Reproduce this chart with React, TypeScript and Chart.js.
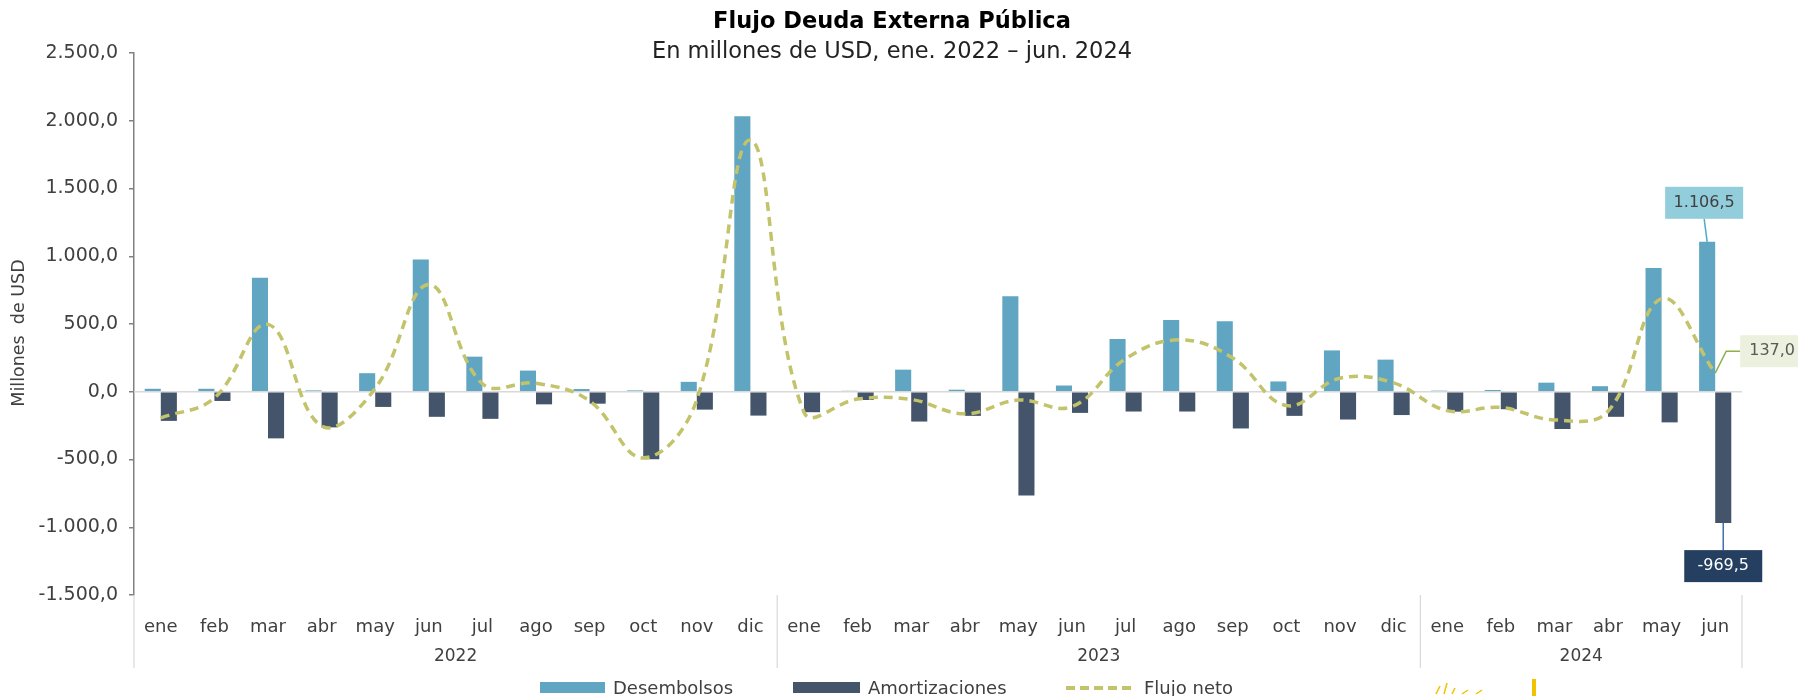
import React, { useEffect, useRef } from "react";
import { Chart, registerables } from "chart.js";
Chart.register(...registerables);

const months = [
  "ene", "feb", "mar", "abr", "may", "jun", "jul", "ago", "sep", "oct", "nov", "dic",
  "ene", "feb", "mar", "abr", "may", "jun", "jul", "ago", "sep", "oct", "nov", "dic",
  "ene", "feb", "mar", "abr", "may", "jun",
];
const years = ["2022", "2023", "2024"];
const yearSpans = [12, 12, 6];

const desembolsos = [
  22, 22, 841, 10, 137, 976, 259, 156, 20, 10, 73, 2034,
  0, 7, 163, 15, 705, 46, 390, 529, 520, 76, 305, 237,
  8, 13, 67, 41, 913, 1106.5,
];
const amortizaciones = [
  -215, -68, -344, -263, -112, -185, -200, -93, -88, -498, -132, -176,
  -151, -61, -220, -178, -766, -156, -146, -146, -271, -178, -205, -172,
  -147, -129, -275, -185, -226, -969.5,
];
const flujoNeto = [
  -193, -46, 497, -253, 25, 791, 59, 63, -68, -488, -59, 1858,
  -151, -54, -57, -163, -61, -110, 244, 383, 249, -102, 100, 65,
  -139, -116, -208, -144, 687, 137.0,
];

const TITLE = "Flujo Deuda Externa Pública";
const SUBTITLE = "En millones de USD, ene. 2022 – jun. 2024";
const Y_TITLE = "Millones  de USD";

const C_DES = "#60a5c1";
const C_AMO = "#44546a";
const C_NET = "#c2c36a";
const FONT = "'DejaVu Sans', sans-serif";
const W = "400";
const TEXT = "#404040";

function fmt(v: number): string {
  const neg = v < 0;
  const [i, d] = Math.abs(v).toFixed(1).split(".");
  const ii = i.replace(/\B(?=(\d{3})+(?!\d))/g, ".");
  return (neg ? "-" : "") + ii + "," + d;
}

const decor = {
  id: "decor",
  beforeDatasetsDraw(chart: any) {
    const { ctx, chartArea, scales } = chart;
    const y0 = scales.y.getPixelForValue(0);
    ctx.save();
    ctx.strokeStyle = "#d9d9d9";
    ctx.lineWidth = 1.5;
    ctx.beginPath();
    ctx.moveTo(chartArea.left, y0);
    ctx.lineTo(chartArea.right, y0);
    ctx.stroke();
    ctx.restore();
  },
  afterDraw(chart: any) {
    const { ctx, chartArea, scales } = chart;
    const x = scales.x;
    ctx.save();
    // titles
    ctx.fillStyle = "#000";
    ctx.textAlign = "center";
    ctx.textBaseline = "middle";
    ctx.font = `bold 22.5px ${FONT}`;
    ctx.fillText(TITLE, 892, 22);
    ctx.fillStyle = "#222";
    ctx.font = `${W} 22.5px ${FONT}`;
    ctx.fillText(SUBTITLE, 892, 52);
    // y title
    ctx.save();
    ctx.translate(19, 333);
    ctx.rotate(-Math.PI / 2);
    ctx.fillStyle = TEXT;
    ctx.font = `${W} 17.5px ${FONT}`;
    ctx.fillText(Y_TITLE, 0, 0);
    ctx.restore();
    // year groups
    const half = (x.getPixelForValue(1) - x.getPixelForValue(0)) / 2;
    let start = 0;
    ctx.strokeStyle = "#d9d9d9";
    ctx.lineWidth = 1.2;
    const bottom = chartArea.bottom;
    const drawSep = (px: number) => {
      ctx.beginPath();
      ctx.moveTo(px, bottom);
      ctx.lineTo(px, 668);
      ctx.stroke();
    };
    drawSep(x.getPixelForValue(0) - half);
    years.forEach((yr, k) => {
      const a = x.getPixelForValue(start) - half;
      const b = x.getPixelForValue(start + yearSpans[k] - 1) + half;
      drawSep(b);
      ctx.fillStyle = TEXT;
      ctx.font = `${W} 17px ${FONT}`;
      ctx.fillText(yr, (a + b) / 2, 657);
      start += yearSpans[k];
    });
    // legend
    const ly = 689;
    ctx.textAlign = "left";
    ctx.font = `${W} 18px ${FONT}`;
    ctx.fillStyle = C_DES;
    ctx.fillRect(540, 682, 65, 11);
    ctx.fillStyle = TEXT;
    ctx.fillText("Desembolsos", 613, ly);
    ctx.fillStyle = C_AMO;
    ctx.fillRect(793, 682, 67, 11);
    ctx.fillStyle = TEXT;
    ctx.fillText("Amortizaciones", 868, ly);
    ctx.strokeStyle = C_NET;
    ctx.lineWidth = 4;
    ctx.setLineDash([9, 5]);
    ctx.beginPath();
    ctx.moveTo(1066, 688);
    ctx.lineTo(1136, 688);
    ctx.stroke();
    ctx.setLineDash([]);
    ctx.fillText("Flujo neto", 1144, ly);
    // logo fragment
    ctx.fillStyle = "#f2c200";
    ctx.fillRect(1532, 679, 4, 17);
    ctx.strokeStyle = "#f2c200";
    ctx.lineWidth = 1.5;
    [[1436, 694, 1440, 686], [1444, 694, 1447, 683], [1452, 694, 1455, 688], [1462, 694, 1468, 690], [1476, 694, 1482, 690]].forEach(
      ([a, b, c, d]) => {
        ctx.beginPath();
        ctx.moveTo(a, b);
        ctx.lineTo(c, d);
        ctx.stroke();
      }
    );
    // annotations
    const last = months.length - 1;
    const dEl = chart.getDatasetMeta(1).data[last];
    const aEl = chart.getDatasetMeta(2).data[last];
    const nEl = chart.getDatasetMeta(0).data[last];
    ctx.font = `${W} 16px ${FONT}`;
    ctx.textAlign = "center";
    {
      const cx = dEl.x - 3;
      const bb = dEl.y - 23;
      ctx.strokeStyle = "#4bacc6";
      ctx.lineWidth = 1.5;
      ctx.beginPath();
      ctx.moveTo(cx, bb);
      ctx.lineTo(dEl.x, dEl.y);
      ctx.stroke();
      ctx.fillStyle = "#92cddc";
      ctx.fillRect(cx - 39, bb - 32, 78, 32);
      ctx.fillStyle = "#404040";
      ctx.fillText(fmt(desembolsos[last]), cx, bb - 16);
    }
    {
      const cx = aEl.x;
      const bt = aEl.y + 27;
      ctx.strokeStyle = "#3f6fb5";
      ctx.lineWidth = 1.5;
      ctx.beginPath();
      ctx.moveTo(cx, aEl.y);
      ctx.lineTo(cx, bt);
      ctx.stroke();
      ctx.fillStyle = "#243f60";
      ctx.fillRect(cx - 39, bt, 78, 32);
      ctx.fillStyle = "#fff";
      ctx.fillText(fmt(amortizaciones[last]), cx, bt + 16);
    }
    {
      ctx.strokeStyle = "#8db04a";
      ctx.lineWidth = 1.5;
      ctx.beginPath();
      ctx.moveTo(nEl.x, nEl.y);
      ctx.lineTo(nEl.x + 11, nEl.y - 22);
      ctx.lineTo(nEl.x + 25, nEl.y - 22);
      ctx.stroke();
      ctx.fillStyle = "#ebf1de";
      ctx.fillRect(nEl.x + 25, nEl.y - 38, 70, 32);
      ctx.fillStyle = "#595959";
      ctx.textAlign = "left";
      ctx.fillText(fmt(flujoNeto[last]), nEl.x + 34, nEl.y - 22);
    }
    ctx.restore();
  },
};

export default function App() {
  const ref = useRef<HTMLCanvasElement | null>(null);
  useEffect(() => {
    if (!ref.current) return;
    const chart = new Chart(ref.current, {
      data: {
        labels: months,
        datasets: [
          {
            type: "line",
            label: "Flujo neto",
            data: flujoNeto,
            borderColor: C_NET,
            backgroundColor: C_NET,
            borderWidth: 3.5,
            borderDash: [9, 6],
            pointRadius: 0,
            tension: 0.4,
            order: 0,
          } as any,
          {
            type: "bar",
            label: "Desembolsos",
            data: desembolsos,
            backgroundColor: C_DES,
            order: 1,
          },
          {
            type: "bar",
            label: "Amortizaciones",
            data: amortizaciones,
            backgroundColor: C_AMO,
            order: 1,
          },
        ],
      },
      options: {
        responsive: false,
        animation: false,
        devicePixelRatio: 1,
        layout: { padding: { top: 53, right: 56, left: 0, bottom: 0 } },
        datasets: { bar: { categoryPercentage: 0.6, barPercentage: 1.0 } },
        plugins: { legend: { display: false }, tooltip: { enabled: false } },
        scales: {
          x: {
            offset: true,
            grid: { display: false },
            border: { display: false },
            ticks: {
              autoSkip: false,
              maxRotation: 0,
              padding: 14,
              color: TEXT,
              font: { family: FONT, size: 18, weight: W },
            },
            afterFit: (s: any) => {
              s.height = 101;
            },
          },
          y: {
            min: -1500,
            max: 2500,
            ticks: {
              stepSize: 500,
              padding: 11,
              color: TEXT,
              font: { family: FONT, size: 19, weight: W },
              callback: (v: any) => fmt(Number(v)),
            },
            grid: { drawOnChartArea: false, drawTicks: true, tickLength: 5, color: "#808080", lineWidth: 1.5 },
            border: { color: "#808080", width: 1.5 },
            afterFit: (s: any) => {
              s.width = 134;
            },
          },
        },
      },
      plugins: [decor],
    } as any);
    return () => chart.destroy();
  }, []);
  return (
    <div style={{ position: "fixed", left: 0, top: 0, width: 1798, height: 696, background: "#fff" }}>
      <canvas ref={ref} width={1798} height={696} style={{ width: 1798, height: 696 }} />
    </div>
  );
}
